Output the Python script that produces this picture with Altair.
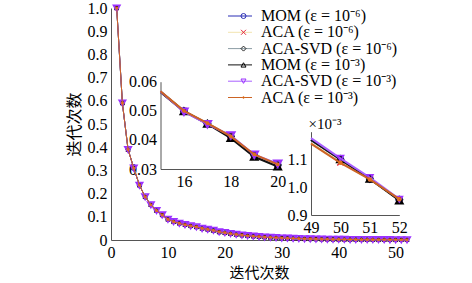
import altair as alt
import pandas as pd

# ---------------- data ----------------
iterations = list(range(1, 53))

series_names = [
    "MOM (ε = 10⁻⁶)",
    "ACA (ε = 10⁻⁶)",
    "ACA-SVD (ε = 10⁻⁶)",
    "MOM (ε = 10⁻³)",
    "ACA-SVD (ε = 10⁻³)",
    "ACA (ε = 10⁻³)",
]
marker_keys = ["m0", "m1", "m2", "m3", "m4", "m5"]

mom_1e6 = [1.0, 0.59, 0.39, 0.31, 0.236, 0.186, 0.152, 0.127, 0.108, 0.089,
           0.079, 0.072, 0.066, 0.061, 0.0565, 0.0499, 0.0456, 0.0412, 0.0347, 0.0314,
           0.0273, 0.0238, 0.0209, 0.0184, 0.0162, 0.0143, 0.0126, 0.0111, 0.0098, 0.0086,
           0.0076, 0.0067, 0.0059, 0.0052, 0.0046, 0.0041, 0.00365, 0.00325, 0.0029, 0.0026,
           0.00235, 0.00212, 0.00192, 0.00175, 0.0016, 0.00147, 0.00136, 0.00126, 0.00117, 0.00110,
           0.00103, 0.000955]
aca_1e6 = [1.0, 0.59, 0.39, 0.31, 0.236, 0.186, 0.152, 0.127, 0.108, 0.089,
           0.079, 0.072, 0.066, 0.061, 0.0565, 0.0499, 0.0456, 0.0414, 0.0347, 0.0314,
           0.0273, 0.0238, 0.0209, 0.0184, 0.0162, 0.0143, 0.0126, 0.0111, 0.0098, 0.0086,
           0.0076, 0.0067, 0.0059, 0.0052, 0.0046, 0.0041, 0.00365, 0.00325, 0.0029, 0.0026,
           0.00235, 0.00212, 0.00192, 0.00175, 0.0016, 0.00147, 0.00136, 0.00126, 0.00116, 0.00109,
           0.00103, 0.000955]
acasvd_1e6 = [1.0, 0.59, 0.39, 0.31, 0.236, 0.186, 0.152, 0.127, 0.108, 0.089,
              0.079, 0.072, 0.066, 0.061, 0.0565, 0.0499, 0.0456, 0.0412, 0.0347, 0.0314,
              0.0273, 0.0238, 0.0209, 0.0184, 0.0162, 0.0143, 0.0126, 0.0111, 0.0098, 0.0086,
              0.0076, 0.0067, 0.0059, 0.0052, 0.0046, 0.0041, 0.00365, 0.00325, 0.0029, 0.0026,
              0.00235, 0.00212, 0.00192, 0.00175, 0.0016, 0.00147, 0.00136, 0.00126, 0.00117, 0.00110,
              0.00103, 0.000955]
mom_1e3 = [1.0, 0.59, 0.39, 0.31, 0.236, 0.186, 0.152, 0.127, 0.108, 0.089,
           0.079, 0.072, 0.066, 0.061, 0.0565, 0.0498, 0.0455, 0.0406, 0.0342, 0.0308,
           0.0271, 0.0237, 0.0208, 0.0183, 0.0161, 0.0142, 0.0125, 0.0110, 0.0097, 0.0085,
           0.0075, 0.0066, 0.0058, 0.0052, 0.0046, 0.0041, 0.00365, 0.00325, 0.0029, 0.0026,
           0.00235, 0.00212, 0.00192, 0.00175, 0.0016, 0.00147, 0.00136, 0.00126, 0.00117, 0.00110,
           0.00103, 0.000952]
acasvd_1e3 = [1.0, 0.59, 0.39, 0.31, 0.236, 0.186, 0.152, 0.127, 0.108, 0.089,
              0.079, 0.072, 0.066, 0.061, 0.0566, 0.0497, 0.0454, 0.0415, 0.0349, 0.0318,
              0.0275, 0.0240, 0.0210, 0.0185, 0.0163, 0.0144, 0.0127, 0.0112, 0.0099, 0.0087,
              0.0077, 0.0068, 0.0060, 0.0053, 0.0047, 0.0042, 0.00370, 0.00330, 0.0029, 0.0026,
              0.00237, 0.00214, 0.00194, 0.00177, 0.00162, 0.00149, 0.00138, 0.00128, 0.001177, 0.001104,
              0.001035, 0.000957]
aca_1e3 = [1.0, 0.59, 0.39, 0.31, 0.236, 0.186, 0.152, 0.127, 0.108, 0.089,
           0.079, 0.072, 0.066, 0.061, 0.0567, 0.0500, 0.0458, 0.0412, 0.0350, 0.0316,
           0.0274, 0.0239, 0.0209, 0.0184, 0.0162, 0.0143, 0.0126, 0.0111, 0.0098, 0.0086,
           0.0076, 0.0067, 0.0059, 0.0052, 0.0046, 0.0041, 0.00363, 0.00323, 0.0029, 0.0026,
           0.00233, 0.00210, 0.00190, 0.00173, 0.00158, 0.00145, 0.00134, 0.00124, 0.001157, 0.001088,
           0.001028, 0.000957]

all_values = [mom_1e6, aca_1e6, acasvd_1e6, mom_1e3, acasvd_1e3, aca_1e3]

line_colors = ["#2b2fb5", "#f2e4b0", "#8c9ca4", "#111111", "#a860ff", "#cc6424"]
marker_colors = ["#2b2fb5", "#e3283c", "#222222", "#000000", "#9b30ff", "#e0701e"]
marker_shapes = [
    "circle",
    "M-1,-1L1,1M-1,1L1,-1",
    "diamond",
    "triangle-up",
    "triangle-down",
    "M-0.35,0A0.35,0.35,0,1,0,0.35,0A0.35,0.35,0,1,0,-0.35,0Z",
]

main_x_ticks = [0, 10, 20, 30, 40, 50]
main_y_ticks = [0, 0.1, 0.2, 0.3, 0.4, 0.5, 0.6, 0.7, 0.8, 0.9, 1.0]
inset1_x_ticks = [16, 18, 20]
inset1_y_ticks = [0.03, 0.04, 0.05, 0.06]
inset2_x_ticks = [49, 50, 51, 52]
inset2_y_ticks = [0.0009, 0.0010, 0.0011]

rows = []
for name, key, vals in zip(series_names, marker_keys, all_values):
    for it, v in zip(iterations, vals):
        rows.append({"series": name, "mkey": key, "iter": it, "value": v})
df = pd.DataFrame(rows)

# ---------------- layout ----------------
W, H = 296, 232
PAD_L, PAD_T = 111, 8
SERIF = "Liberation Serif"
CJK = "Noto Sans CJK SC"
AXIS_COLOR = "#555555"

color_scale = alt.Scale(domain=series_names, range=line_colors)
stroke_scale = alt.Scale(domain=marker_keys, range=marker_colors)
shape_scale = alt.Scale(domain=marker_keys, range=marker_shapes)

LX, LY = 121, 0
line_legend = alt.Legend(
    orient="none", legendX=LX, legendY=LY, title=None, direction="vertical",
    symbolType="M-2,0H2", symbolSize=144, symbolStrokeWidth=1,
    labelFont=SERIF, labelFontSize=16, labelColor="black", labelOffset=13,
    labelLimit=300, rowPadding=0.3, padding=0,
)
marker_legend = alt.Legend(
    orient="none", legendX=LX + 3.5, legendY=LY, title=None, direction="vertical",
    symbolSize=25, symbolStrokeWidth=1,
    labelFont=SERIF, labelFontSize=16, labelExpr="' '", labelOffset=13,
    labelLimit=300, rowPadding=0.3, padding=0,
)


def axis_common(**kw):
    base = dict(grid=False, ticks=False, domainColor=AXIS_COLOR, labelFont=SERIF,
                labelFontSize=16, labelColor="black", labelFlush=False,
                labelOverlap=False, labelPadding=4)
    base.update(kw)
    return alt.Axis(**base)


def build_view(xscale, yscale, xaxis, yaxis, line_iters, point_iters, lw, msizes, mwidths):
    layers = []
    for name, ms, mw in zip(series_names, msizes, mwidths):
        sub = df[df["series"] == name]
        ldf = sub[sub["iter"].isin(line_iters)]
        pdf = sub[sub["iter"].isin(point_iters)]
        line = alt.Chart(ldf).mark_line(strokeWidth=lw).encode(
            x=alt.X("iter:Q", scale=xscale, axis=xaxis),
            y=alt.Y("value:Q", scale=yscale, axis=yaxis),
            color=alt.Color("series:N", scale=color_scale, legend=line_legend),
        )
        pts = alt.Chart(pdf).mark_point(filled=False, size=ms, strokeWidth=mw, opacity=1).encode(
            x=alt.X("iter:Q", scale=xscale, axis=xaxis),
            y=alt.Y("value:Q", scale=yscale, axis=yaxis),
            stroke=alt.Stroke("mkey:N", scale=stroke_scale, legend=marker_legend),
            shape=alt.Shape("mkey:N", scale=shape_scale, legend=marker_legend),
        )
        layers += [line, pts]
    return alt.layer(*layers)


# main plot
main_x_axis = axis_common(orient="bottom", values=main_x_ticks, title="迭代次数",
                          titleFont=CJK, titleFontSize=15, titleFontWeight="normal",
                          titleColor="black", titlePadding=5.5)
main_y_axis = axis_common(orient="left", values=main_y_ticks, title="迭代次数",
                          titleFont=CJK, titleFontSize=16, titleFontWeight="normal",
                          titleColor="black", titlePadding=5,
                          labelExpr="datum.value == 0 ? '0' : format(datum.value, '.1f')")
main = build_view(
    alt.Scale(domain=[0, 52], nice=False, zero=False),
    alt.Scale(domain=[0, 1], nice=False),
    main_x_axis, main_y_axis, iterations, iterations, 1,
    [18, 14, 16, 16, 42, 30], [1, 1, 1, 1, 1.6, 1.2],
)

# inset 1 (iterations 15-20)
i1_x0, i1_x1, i1_yb, i1_yt = 49.5, 166.7, 161, 73.7
inset1 = build_view(
    alt.Scale(domain=[15, 20], range=[i1_x0, i1_x1], nice=False, zero=False),
    alt.Scale(domain=[0.03, 0.06], range=[i1_yb, i1_yt], nice=False, zero=False),
    axis_common(orient="bottom", values=inset1_x_ticks, title=None, offset=i1_yb - H),
    axis_common(orient="left", values=inset1_y_ticks, title=None, offset=-i1_x0, format=".2f"),
    list(range(15, 21)), list(range(16, 21)), 2,
    [40, 40, 40, 45, 55, 40], [1.5, 1.5, 1.5, 2, 2, 1.5],
)

# inset 2 (iterations 49-52)
i2_x0, i2_x1, i2_yb, i2_yt = 200, 288.3, 207, 123.7
inset2 = build_view(
    alt.Scale(domain=[49, 52], range=[i2_x0, i2_x1], nice=False, zero=False),
    alt.Scale(domain=[0.0009, 0.0012], range=[i2_yb, i2_yt], nice=False, zero=False),
    axis_common(orient="bottom", values=inset2_x_ticks, title=None, offset=i2_yb - H),
    axis_common(orient="left", values=inset2_y_ticks, offset=-i2_x0,
                labelExpr="format(datum.value * 1000, '.1f')",
                title="×10⁻³", titleFont=SERIF, titleFontSize=15, titleFontWeight="normal",
                titleColor="black", titleAngle=0, titleAlign="left", titleBaseline="alphabetic",
                titleX=-3, titleY=i2_yt - 3),
    list(range(49, 53)), list(range(50, 53)), 2,
    [40, 40, 40, 45, 40, 55], [1.5, 1.5, 1.5, 2, 1.5, 2],
)

chart = (
    alt.layer(main, inset1, inset2)
    .resolve_scale(x="independent", y="independent")
    .properties(
        width=W, height=H,
        autosize=alt.AutoSizeParams(type="none"),
        padding={"left": PAD_L, "top": PAD_T, "right": 472 - PAD_L - W, "bottom": 283 - PAD_T - H},
        background="white",
    )
    .configure_view(stroke=None)
)

chart.save("out.html", embed_options={"renderer": "svg", "actions": False})
